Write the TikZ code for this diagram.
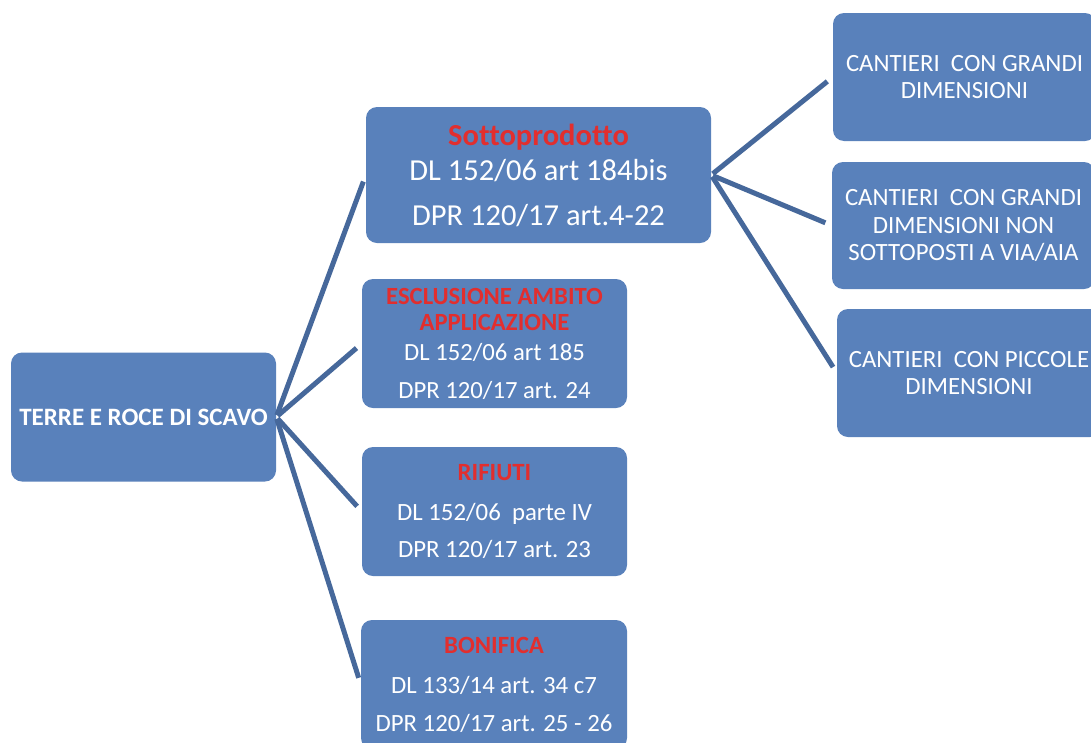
\documentclass[tikz,border=0pt]{standalone}
\usepackage{fontspec}
\setmainfont{Carlito}[Ligatures=NoCommon]
\usetikzlibrary{calc}

\definecolor{boxblue}{RGB}{89,129,187}
\definecolor{linkblue}{RGB}{70,104,155}
\definecolor{headred}{RGB}{226,46,46}

\begin{document}
\begin{tikzpicture}[x=1pt,y=-1pt,
        box/.style={fill=boxblue,draw=none,rounded corners=11pt,inner sep=0,
            text=white,align=center,minimum width=265pt,minimum height=129pt},
        link/.style={draw=linkblue,line width=5pt,shorten <=2pt,shorten >=7pt},
        head/.style={text=headred}]
        \useasboundingbox (0,0) rectangle (1091,742);
        \fill[white] (0,0) rectangle (1091,742);
        \clip (0,0) rectangle (1091,742);

        % Boxes
        \node[box,font={\fontsize{25}{27}\selectfont\bfseries}] (root) at (143.5,417) {TERRE E ROCE DI SCAVO};

        \node[box,minimum width=345pt,minimum height=136pt,font={\fontsize{30.5}{35}\selectfont}] (sotto) at (538.5,175)
            {\textcolor{headred}{\bfseries Sottoprodotto}\\
             DL 152/06 art 184bis\\[10pt]
             DPR 120/17 art.4-22};

        \node[box,font={\fontsize{24.7}{26}\selectfont}] (escl) at (494.5,343.5)
            {\textcolor{headred}{\bfseries ESCLUSIONE AMBITO}\\
             \textcolor{headred}{\bfseries APPLICAZIONE}\\[4pt]
             DL 152/06 art 185\\[12pt]
             DPR 120/17 art. 24};

        \node[box,font={\fontsize{24.8}{37}\selectfont}] (rif) at (494.5,511.5)
            {\textcolor{headred}{\bfseries RIFIUTI}\\[3pt]
             DL 152/06\ \ parte IV\\
             DPR 120/17 art. 23};

        \node[box,minimum width=266pt,font={\fontsize{24.8}{38}\selectfont}] (bon) at (494,684.5)
            {\textcolor{headred}{\bfseries BONIFICA}\\[2pt]
             DL 133/14 art. 34 c7\\
             DPR 120/17 art. 25 - 26};

        \node[box,minimum width=263pt,minimum height=128pt,font={\fontsize{24.8}{27}\selectfont}] (big) at (964.5,77)
            {CANTIERI\ \ CON GRANDI\\ DIMENSIONI};

        \node[box,minimum width=263pt,minimum height=127pt,font={\fontsize{24.8}{27.5}\selectfont}] (bignv) at (963.5,225.5)
            {CANTIERI\ \ CON GRANDI\\ DIMENSIONI NON\\ SOTTOPOSTI A VIA/AIA};

        \node[box,minimum width=264pt,minimum height=128pt,font={\fontsize{24.8}{27}\selectfont}] (small) at (969,373)
            {CANTIERI\ \ CON PICCOLE\\ DIMENSIONI};

        % Edges
        \foreach \v in {sotto, escl, rif, bon} {
            \draw[link] (root.east) -- (\v.west);
        }

        \foreach \v in {big, bignv, small} {
            \draw[link] (sotto.east) -- (\v.west);
        }
    \end{tikzpicture}
\end{document}
